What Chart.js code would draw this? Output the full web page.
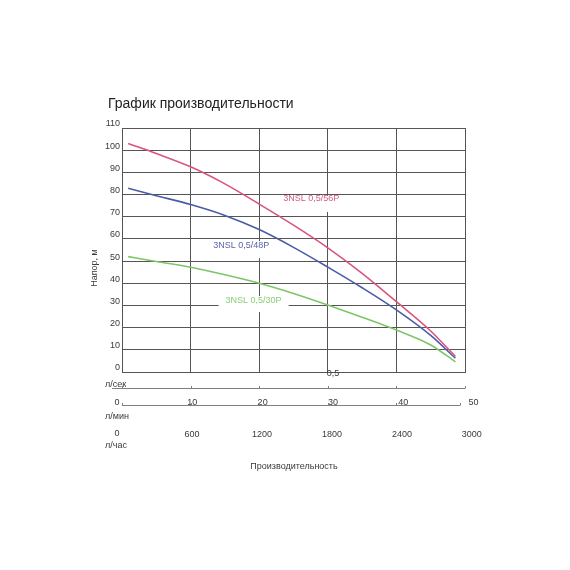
<!DOCTYPE html>
<html><head><meta charset="utf-8">
<script src="https://cdn.jsdelivr.net/npm/chart.js@4/dist/chart.umd.min.js"></script>
<style>html,body{margin:0;padding:0;background:#fff}canvas{display:block}</style>
</head><body>
<canvas id="c" width="570" height="570"></canvas>
<script>
// Flow in l/min, head in m
const flowLpm = [0.9, 5, 10, 15, 20, 25, 30, 35, 40, 45, 48.6];
const head56 = [103, 98.5, 92.5, 84.8, 75.7, 66.2, 56, 44.5, 31.7, 18.5, 7];
const head48 = [82.8, 79.5, 75.5, 70.6, 64.2, 56.2, 47.3, 38, 28, 16.5, 6.2];
const head30 = [52, 49.8, 47.2, 43.8, 40, 35.4, 30.2, 24.7, 18.9, 12.2, 4.6];
const seriesNames = ['3NSL 0,5/56P', '3NSL 0,5/48P', '3NSL 0,5/30P'];
const seriesColors = ['#d9557e', '#4c5ca4', '#7cc666'];
const labelColors = ['#d65b80', '#5865a8', '#8ccc78'];
const labelAt = [[23.5, 78], [13.3, 57.2], [15.1, 32.2]]; // in l/min, m
const yTicks = [0, 10, 20, 30, 40, 50, 60, 70, 80, 90, 100, 110];
const lpsTicks = [0.5];
const lpmTicks = [0, 10, 20, 30, 40, 50];
const lphTicks = [0, 600, 1200, 1800, 2400, 3000];

const FONT = '"Liberation Sans", Arial, sans-serif';
const labelBoxes = [[-2, -3, 58, 16], [-2, -4, 59, 17], [-7, -4.5, 70, 16]];

const overlay = {
  id: 'overlay',
  beforeDatasetsDraw(chart) {
    const {ctx, scales: {x, y}} = chart;
    ctx.save();
    ctx.font = '9px ' + FONT;
    ctx.textBaseline = 'middle';
    ctx.textAlign = 'left';
    seriesNames.forEach((name, i) => {
      const px = x.getPixelForValue(labelAt[i][0]);
      const py = y.getPixelForValue(labelAt[i][1]);
      const b = labelBoxes[i];
      ctx.fillStyle = '#fff';
      ctx.fillRect(px + b[0], py + b[1], b[2], b[3]);
      ctx.fillStyle = labelColors[i];
      ctx.fillText(name, px, py);
    });
    ctx.restore();
  },
  afterDraw(chart) {
    const {ctx, scales: {x, y}} = chart;
    const L = x.left;
    const lab = (v, f) => L + (x.getPixelForValue(v) - L) * f;
    ctx.save();
    // title
    ctx.fillStyle = '#222';
    ctx.font = '14px ' + FONT;
    ctx.textBaseline = 'middle';
    ctx.textAlign = 'left';
    ctx.fillText('График производительности', 108, 104);
    // y title
    ctx.font = '9px ' + FONT;
    ctx.fillStyle = '#3a3a3a';
    ctx.save();
    ctx.translate(95, 268);
    ctx.rotate(-Math.PI / 2);
    ctx.textAlign = 'center';
    ctx.fillText('Напор, м', 0, 0);
    ctx.restore();

    // row: l/s
    ctx.textAlign = 'center';
    lpsTicks.forEach(v => ctx.fillText(String(v).replace('.', ','), lab(v * 60, 1.025), 374));
    ctx.strokeStyle = '#808080';
    ctx.lineWidth = 1;
    ctx.beginPath();
    ctx.moveTo(112, 388.5);
    ctx.lineTo(x.getPixelForValue(50), 388.5);
    lpmTicks.forEach(v => {
      const px = Math.round(x.getPixelForValue(v)) + 0.5;
      ctx.moveTo(px, 386); ctx.lineTo(px, 388.5);
    });
    ctx.stroke();
    ctx.textAlign = 'left';
    ctx.fillText('л/сек', 105, 385);

    // row: l/min
    ctx.textAlign = 'center';
    lpmTicks.forEach(v => {
      const px = v === 0 ? 117 : lab(v, 1.025);
      ctx.fillText(String(v), px, 403);
    });
    ctx.beginPath();
    ctx.moveTo(x.getPixelForValue(0), 405.5);
    ctx.lineTo(x.getPixelForValue(50) - 5, 405.5);
    lpmTicks.forEach(v => {
      const px = v === 50 ? Math.round(x.getPixelForValue(50)) - 4.5 : Math.round(x.getPixelForValue(v)) + 0.5;
      ctx.moveTo(px, 403); ctx.lineTo(px, 405.5);
    });
    ctx.stroke();
    ctx.textAlign = 'left';
    ctx.fillText('л/мин', 105, 417);

    // row: l/h
    ctx.textAlign = 'center';
    lphTicks.forEach(v => {
      const px = v === 0 ? 117 : lab(v / 60, 1.02);
      ctx.fillText(String(v), px, v === 0 ? 434 : 435);
    });
    ctx.textAlign = 'left';
    ctx.fillText('л/час', 105, 446);

    // x title
    ctx.textAlign = 'center';
    ctx.fillText('Производительность', 294, 467);
    ctx.restore();
  }
};

const mk = arr => flowLpm.map((q, i) => ({x: q, y: arr[i]}));

new Chart(document.getElementById('c'), {
  type: 'line',
  data: {
    datasets: [head56, head48, head30].map((arr, i) => ({
      label: seriesNames[i],
      data: mk(arr),
      borderColor: seriesColors[i],
      backgroundColor: seriesColors[i],
      borderWidth: 1.6,
      pointRadius: 0,
      fill: false,
      cubicInterpolationMode: 'monotone'
    }))
  },
  options: {
    responsive: false,
    animation: false,
    devicePixelRatio: 1,
    layout: {padding: {top: 128, right: 105, left: 0, bottom: 0}},
    plugins: {legend: {display: false}, tooltip: {enabled: false}, title: {display: false}},
    scales: {
      x: {
        type: 'linear', min: 0, max: 50,
        ticks: {stepSize: 10, display: false},
        grid: {color: '#555', lineWidth: 1, drawTicks: false},
        border: {color: '#555'},
        afterFit(s) { s.height = 198; }
      },
      y: {
        type: 'linear', min: 0, max: 110,
        afterBuildTicks(s) { s.ticks = yTicks.map(v => ({value: v})); },
        ticks: {padding: 2, labelOffset: -4, color: '#3a3a3a', font: {family: FONT, size: 9}},
        grid: {color: '#555', lineWidth: 1, drawTicks: false},
        border: {color: '#555'},
        afterFit(s) { s.width = 122; }
      }
    }
  },
  plugins: [overlay]
});
</script>
</body></html>
